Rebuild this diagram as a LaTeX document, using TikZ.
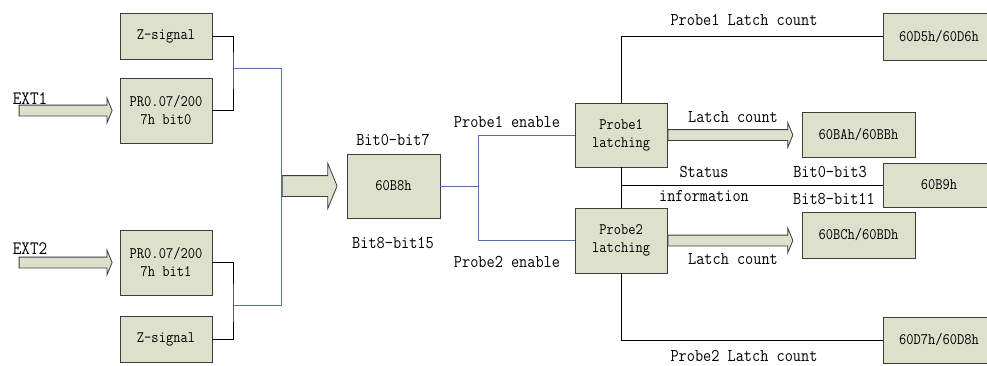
\documentclass[tikz,border=0pt]{standalone}
\usepackage{fontspec}
\usepackage{xcolor}
\usepackage{tikz}
\usetikzlibrary{shapes.arrows,positioning,calc}

\newfontfamily\diagfont[FakeStretch=0.88]{Latin Modern Mono}
\definecolor{boxfill}{RGB}{221,224,203}
\definecolor{boxline}{RGB}{60,60,60}
\definecolor{busblue}{RGB}{84,113,170}

\tikzset{
  blk/.style={draw=boxline, line width=0.9pt, fill=boxfill, inner sep=0pt, align=center,
    font=\diagfont\fontsize{16}{18}\selectfont},
  lbl/.style={inner sep=0pt, align=center, font=\diagfont\fontsize{18}{24}\selectfont},
  wire/.style={line width=0.7pt, black},
  bus/.style={line width=0.7pt, busblue},
  fatarrow/.style={single arrow, draw=boxline, line width=0.8pt, fill=boxfill, inner sep=5pt,
    single arrow head extend=7pt, single arrow tip angle=135},
  bigarrow/.style={fatarrow, inner sep=10pt, single arrow head extend=12pt}
}

\begin{document}
\begin{tikzpicture}[x=1pt, y=-1pt]
\clip (0,0) rectangle (987,365);

% inputs
\node[blk, minimum width=92pt, minimum height=46pt] (zs1) at (166,36) {Z-signal};
\node[blk, minimum width=92pt, minimum height=65pt] (pr1) at (166,110.5) {PR0.07/200\\7h bit0};
\node[blk, minimum width=92pt, minimum height=65pt] (pr2) at (166,262.5) {PR0.07/200\\7h bit1};
\node[blk, minimum width=92pt, minimum height=46pt] (zs2) at (166,339) {Z-signal};

\node[lbl, font=\diagfont\fontsize{19}{20}\selectfont] (ext1) at (30,99) {EXT1};
\node[lbl, font=\diagfont\fontsize{19}{20}\selectfont] (ext2) at (30,249) {EXT2};
\node[fatarrow, minimum height=93pt, anchor=tip] (in1) at ([xshift=-7pt]pr1.west) {};
\node[fatarrow, minimum height=93pt, anchor=tip] (in2) at ([xshift=-7pt]pr2.west) {};

\coordinate (j1) at (233,68);
\coordinate (j2) at (233,305);
\draw[wire] (zs1.east) -| (j1) |- (pr1.east);
\draw[wire] (pr2.east) -| (j2) |- (zs2.east);

% 60B8h
\node[blk, minimum width=93pt, minimum height=64pt] (b8) at (393.5,186) {60B8h};
\node[bigarrow, minimum height=55pt, anchor=tip] (ar) at ([xshift=-9pt]b8.west) {};
\draw[bus] (j1) -- (j1 -| ar.tail) -- (j2 -| ar.tail) -- (j2);
\node[lbl] (lo8) at (393,140) {Bit0-bit7};
\node[lbl] (hi8) at (393,243) {Bit8-bit15};

% probes
\node[blk, minimum width=92pt, minimum height=64pt] (p1) at (621,135) {Probe1\\latching};
\node[blk, minimum width=92pt, minimum height=65pt] (p2) at (621,240.5) {Probe2\\latching};
\coordinate (fork) at (478,186);
\draw[bus] (b8.east) -- (fork) |- (p1.west);
\draw[bus] (fork) |- (p2.west);
\node[lbl] (en1) at (507,122) {Probe1 enable};
\node[lbl] (en2) at (507,262) {Probe2 enable};

% outputs
\node[blk, minimum width=112pt, minimum height=47pt] (d56) at (939,36.5) {60D5h/60D6h};
\node[blk, minimum width=113pt, minimum height=45pt] (bab) at (858.5,134.5) {60BAh/60BBh};
\node[blk, minimum width=112pt, minimum height=44pt] (b9) at (939,185) {60B9h};
\node[blk, minimum width=113pt, minimum height=46pt] (bcd) at (858.5,235) {60BCh/60BDh};
\node[blk, minimum width=112pt, minimum height=46pt] (d78) at (939,340) {60D7h/60D8h};

\node[fatarrow, minimum height=125pt, anchor=tail] (la1) at (p1.east) {};
\node[fatarrow, minimum height=125pt, anchor=tail] (la2) at (p2.east) {};

\draw[wire] (p1.north) |- (d56.west);
\draw[wire] (p1.south) -- (p2.north);
\draw[wire] (p1.south |- b9.west) -- (b9.west);
\draw[wire] (p2.south) |- (d78.west);

\node[lbl] (c1) at (744,20) {Probe1 Latch count};
\node[lbl] (c2) at (744,356) {Probe2 Latch count};
\node[lbl] (lc1) at (733,117) {Latch count};
\node[lbl] (lc2) at (733,259) {Latch count};
\node[lbl] (st) at (704,184) {Status\\information};
\node[lbl] (lo9) at (830,172) {Bit0-bit3};
\node[lbl] (hi9) at (834,199) {Bit8-bit11};
\end{tikzpicture}
\end{document}
